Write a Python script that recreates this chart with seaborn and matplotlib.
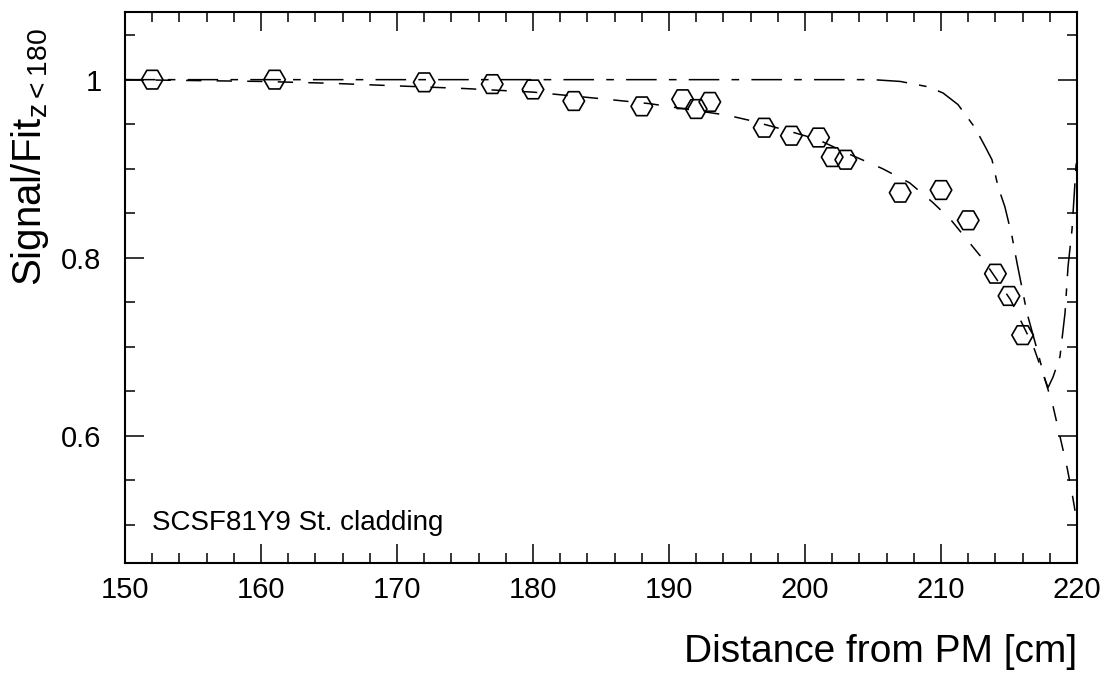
import matplotlib
matplotlib.use("Agg")
import matplotlib.pyplot as plt
import seaborn as sns
from matplotlib.ticker import MultipleLocator

# ---- data ----
dist_cm = [152, 161, 172, 177, 180, 183, 188, 191, 192, 193, 197, 199, 201,
           202, 203, 207, 210, 212, 214, 215, 216]
signal_ratio = [1.000, 1.000, 0.997, 0.995, 0.989, 0.976, 0.970, 0.978, 0.967,
                0.975, 0.946, 0.937, 0.935, 0.913, 0.910, 0.873, 0.876, 0.842,
                0.782, 0.757, 0.713]

# dashed fit curve
fit_x = [150, 155, 160, 165, 170, 175, 180, 185.4, 188.6, 192.1, 194.3, 196,
         198.4, 200.9, 203.3, 205.7, 207.7, 209.4, 210.7, 213.1, 215.1, 216.8,
         217.65, 218.24, 218.75, 219.26, 219.63, 219.93, 220.0]
fit_y = [1.000, 0.999, 0.998, 0.996, 0.993, 0.990, 0.986, 0.978, 0.973, 0.965,
         0.960, 0.954, 0.944, 0.933, 0.916, 0.900, 0.884, 0.862, 0.843, 0.798,
         0.753, 0.700, 0.663, 0.633, 0.599, 0.565, 0.536, 0.509, 0.503]

# dash-dot curve
dd_x = [150, 160, 170, 180, 190, 200, 205, 207.0, 209.04, 210.15, 211.25, 212.5,
        213.24, 213.75, 214.19, 214.7, 215.22, 215.59, 216.32, 217.06, 217.65,
        217.87, 218.24, 218.75, 219.12, 219.34, 219.63, 219.85, 220.0]
dd_y = [1.000, 1.000, 1.000, 1.000, 1.000, 1.000, 1.000, 0.998, 0.992, 0.985,
        0.972, 0.946, 0.925, 0.910, 0.880, 0.857, 0.824, 0.794, 0.738, 0.697,
        0.663, 0.654, 0.666, 0.689, 0.738, 0.790, 0.831, 0.884, 0.921]

x_ticks = [150, 160, 170, 180, 190, 200, 210, 220]
y_ticks = [0.6, 0.8, 1.0]
y_tick_labels = ["0.6", "0.8", "1"]

sns.set_theme(style="ticks")
plt.rcParams["font.family"] = ["Liberation Sans", "DejaVu Sans"]
plt.rcParams["mathtext.default"] = "regular"

fig = plt.figure(figsize=(11.02, 6.75), dpi=100)
ax = fig.add_axes([125 / 1102, 1 - 563 / 675, (1077 - 125) / 1102, (563 - 12) / 675])

sns.scatterplot(x=dist_cm, y=signal_ratio, ax=ax, marker="H", s=240,
                facecolor="none", edgecolor="black", linewidth=1.2, zorder=3)
sns.lineplot(x=fit_x, y=fit_y, ax=ax, color="black", lw=1.1,
             linestyle=(0, (10, 10)), estimator=None, zorder=2)
sns.lineplot(x=dd_x, y=dd_y, ax=ax, color="black", lw=1.1,
             linestyle=(0, (20, 8, 5, 8)), estimator=None, zorder=2)

ax.set_xlim(150, 220)
ax.set_ylim(0.457, 1.076)
ax.set_xticks(x_ticks)
ax.set_yticks(y_ticks)
ax.set_yticklabels(y_tick_labels)
ax.xaxis.set_minor_locator(MultipleLocator(2))
ax.yaxis.set_minor_locator(MultipleLocator(0.05))

ax.tick_params(which="both", direction="in", top=True, right=True, width=1.1,
               color="black", labelsize=21, labelcolor="black")
ax.tick_params(which="major", length=14)
ax.tick_params(which="minor", length=7)
ax.tick_params(axis="x", which="major", pad=9)
ax.tick_params(axis="y", which="major", pad=17)

for sp in ax.spines.values():
    sp.set_linewidth(1.5)
    sp.set_color("black")
    sp.set_visible(True)

ax.set_xlabel("Distance from PM [cm]", fontsize=28, color="black", ha="right")
ax.xaxis.set_label_coords(1.0, -0.1797)
ax.xaxis.label.set_va("baseline")
ax.set_ylabel("Signal/Fit$_{z{<}180}$", fontsize=29, color="black", loc="top")
ax.yaxis.label.set_va("baseline")
ax.yaxis.set_label_coords(-0.088, 0.971)

ax.text(152, 0.494, "SCSF81Y9 St. cladding", fontsize=20, color="black",
        ha="left", va="baseline")

ax.set_facecolor("white")
fig.patch.set_facecolor("white")
fig.savefig("out.png", dpi=100)
